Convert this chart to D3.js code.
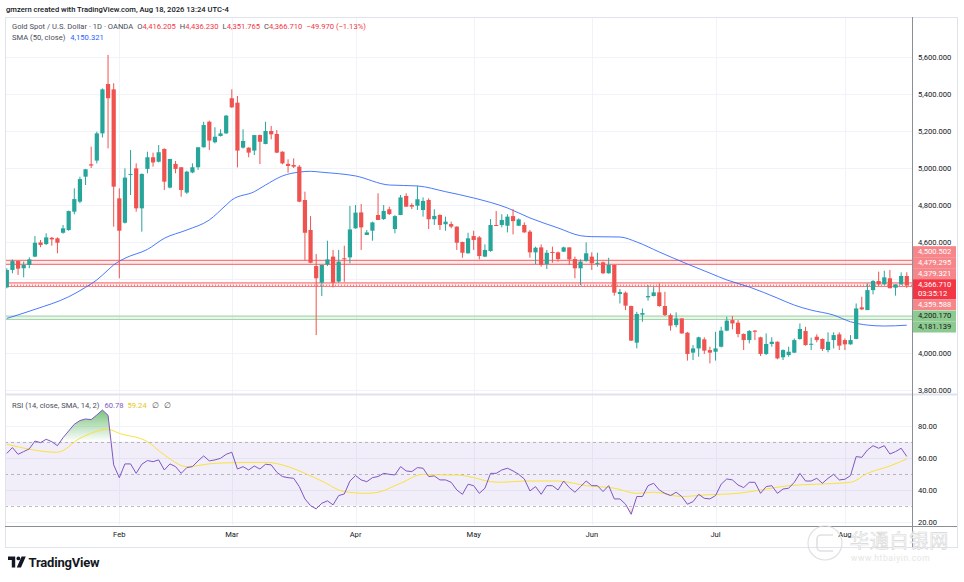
<!DOCTYPE html>
<html>
<head>
<meta charset="utf-8">
<script src="https://cdn.jsdelivr.net/npm/d3@7"></script>
<style>
    body { margin: 0; background: #fff; }
    svg { display: block; font-family: Roboto, "Noto Sans", sans-serif; }
</style>
</head>
<body>
<svg width="964" height="582"></svg>
<script>
// Daily candles, Jan 5 - Aug 18 2026 (Good Friday closed)
const opens = [
    4355,4449,4497,4458,4476,4521,4598,4589,4623,4620,
    4650,4665,4764,4818,4953,5020,5040,5187,5454,5425,
    4836,4704,4966,4998,4782,4995,5058,5034,5103,4894,
    5022,5004,4867,4976,5004,5112,5250,5139,5173,5187,
    5377,5353,5110,5110,5094,5178,5130,5200,5184,5088,
    5022,5016,5007,4827,4665,4470,4380,4479,4521,4386,
    4512,4517,4674,4760,4638,4661,4746,4724,4777,4670,
    4746,4849,4800,4796,4773,4827,4723,4746,4696,4697,
    4683,4600,4539,4632,4625,4521,4551,4692,4692,4688,
    4740,4688,4692,4656,4544,4571,4481,4546,4544,4548,
    4571,4508,4458,4497,4521,4485,4490,4431,4476,4319,
    4326,4254,4056,4207,4301,4308,4328,4254,4205,4151,
    4187,4110,4002,4025,4074,4016,4007,4034,4121,4178,
    4164,4103,4070,4121,4085,3995,4049,4061,3977,3989,
    4002,4076,4119,4047,4088,4076,4016,4070,4101,4070,
    4047,4076,4247,4232,4340,4389,4371,4404,4353,4371,
    4416.205
];
const highs = [
    4458,4506,4500,4494,4517,4632,4611,4647,4627,4625,
    4692,4770,4890,4953,4995,5115,5196,5430,5611,5458,
    4890,4998,5097,5025,4970,5088,5083,5124,5106,5049,
    5038,5004,4985,5025,5112,5250,5256,5220,5209,5286,
    5425,5389,5209,5112,5178,5180,5250,5227,5205,5090,
    5047,5052,5016,4872,4740,4535,4476,4607,4557,4557,
    4580,4795,4800,4805,4665,4710,4863,4800,4791,4745,
    4854,4863,4809,4903,4841,4836,4777,4750,4737,4710,
    4685,4602,4650,4661,4632,4587,4724,4768,4750,4750,
    4778,4728,4706,4665,4575,4587,4557,4575,4548,4575,
    4571,4521,4506,4598,4544,4542,4494,4515,4478,4346,
    4332,4256,4223,4241,4367,4358,4376,4331,4214,4220,
    4189,4114,4043,4088,4085,4034,4115,4142,4196,4200,
    4178,4106,4124,4124,4088,4106,4085,4063,4020,4034,
    4079,4160,4142,4083,4101,4079,4112,4112,4112,4079,
    4097,4268,4304,4376,4394,4440,4445,4449,4371,4436,
    4436.23
];
const lows = [
    4350,4431,4422,4409,4458,4518,4572,4584,4580,4539,
    4645,4660,4750,4810,4908,5000,5025,5165,5106,4683,
    4404,4700,4854,4764,4656,4971,5007,5030,4881,4890,
    4971,4845,4860,4972,4990,5110,5097,5133,5170,5185,
    5325,5003,5105,5058,5070,5021,5128,5155,5080,5020,
    4975,5000,4815,4500,4485,4097,4308,4470,4355,4380,
    4385,4485,4672,4557,4638,4607,4719,4719,4746,4647,
    4745,4790,4778,4773,4737,4670,4692,4665,4661,4674,
    4557,4515,4537,4557,4506,4518,4548,4688,4679,4652,
    4641,4686,4650,4515,4481,4467,4454,4488,4494,4546,
    4476,4404,4367,4494,4449,4467,4427,4429,4310,4268,
    4232,4065,4025,4169,4283,4306,4250,4200,4121,4139,
    4104,3959,3962,3980,3995,3944,3959,4030,4118,4128,
    4085,4016,4052,4070,3984,3989,4034,3966,3962,3980,
    4000,4072,4040,4016,4058,4011,4004,4025,4016,4016,
    4045,4074,4232,4232,4317,4364,4369,4350,4310,4369,
    4351.765
];
const closes = [
    4449,4497,4456,4476,4506,4596,4584,4625,4614,4596,
    4674,4767,4832,4940,4993,5013,5187,5425,5377,4899,
    4661,4948,4968,4782,4968,5058,5030,5085,4926,5049,
    4995,4881,4980,5004,5112,5232,5148,5169,5187,5283,
    5328,5094,5146,5083,5178,5142,5200,5182,5083,5025,
    5011,5007,4818,4650,4488,4404,4476,4506,4380,4494,
    4508,4668,4759,4679,4652,4706,4719,4768,4751,4740,
    4841,4791,4791,4831,4822,4723,4741,4692,4710,4683,
    4596,4542,4620,4611,4524,4557,4692,4689,4719,4737,
    4713,4722,4652,4544,4569,4476,4542,4544,4508,4571,
    4506,4458,4494,4539,4485,4487,4431,4476,4326,4330,
    4256,4067,4211,4216,4308,4328,4254,4205,4148,4187,
    4106,3995,4025,4085,4013,4002,4025,4121,4175,4160,
    4103,4070,4119,4115,3995,4049,4061,3971,4016,4007,
    4070,4130,4043,4050,4070,4022,4061,4097,4040,4047,
    4070,4241,4236,4340,4389,4371,4409,4350,4371,4416.68,
    4366.71
];

// SMA(50): candle index / value
const smaIdx = [0,5,11,14,16,18,19,21,25,28,32,36,39,40,44,46,49,52,54,56,
    62,68,73,78,83,89,93,98,102,104,109,112,116,121,125,128,132,137,140,143,147,150,153,156,160];
const smaVal = [4187,4236,4304,4355,4395,4449,4476,4512,4560,4620,4665,4719,4800,4827,4872,4908,4957,4978,4982,4977,
    4957,4908,4903,4872,4838,4784,4730,4676,4634,4629,4627,4600,4546,4481,4432,4395,4357,4297,4259,4232,4205,4169,4151,4146,4150.321];

// RSI(14) per candle
const rsi = [
    62.7,66.3,62.1,63.8,65.5,70.4,69.4,71.5,70,67.5,
    72.5,76.7,80.9,83.2,84.2,83.8,86.7,89.8,86.5,55.5,
    47.5,56.1,56.1,50.2,55.9,58.2,57.5,58.6,52.3,56.1,
    54.4,50.2,53.8,54.4,58,61.1,58,58.6,59.6,62.1,
    63.4,52.9,54.4,52.3,54.8,52.9,55.9,55.5,50.9,48.2,
    47.5,47.1,41.9,34.2,30,28,31.5,33,30.5,36.3,
    37.3,45.4,48.8,46.1,45,47.5,48.2,50.2,49.6,49.2,
    54.4,51.7,51.3,53.8,53.4,48.2,48.6,46.1,46.1,44.6,
    39.8,37.1,43.4,42.5,37.7,40.9,50.2,50.2,52.3,53.4,
    51.7,49.6,46.7,39.2,41.9,37.1,42.5,42.5,39.8,45.4,
    41.3,38.4,41.9,45.4,42.5,42.5,38.8,42.5,34.2,34.2,
    30.9,24.6,35.7,35.7,42.5,44,39.8,37.7,36.3,38.4,
    35.7,30.9,32.5,37.1,34.6,34.2,36.3,43.4,46.7,46.1,
    42.9,41.3,44.6,44.6,37.7,41.9,42.5,37.7,40.4,40.9,
    44.6,50.2,45.4,45.4,47.1,44,47.1,49.6,46.1,46.5,
    48.8,60.7,60.2,64.8,67.5,65.9,67.5,62.3,63.8,65.9,
    60.78
];
// RSI-based MA (14)
const rsiMaIdx = [0,9,13,18,20,25,28,32,37,41,46,50,53,56,60,64,66,70,74,78,
    80,83,86,88,92,98,103,108,112,115,120,124,130,134,139,144,150,153,157,160];
const rsiMaVal = [68.4,63.4,72.1,77.7,75.2,70,61.7,54.4,56.5,56.9,57.1,54.4,50.2,45.4,38.8,37.7,38.4,44,49.6,49.2,
    49.2,47.5,45,44.6,45.4,45.4,42.5,40.9,37.7,38.4,35.7,36.7,37.7,39.8,42.5,43.4,44.6,50.2,54.8,59.24];

// Drawn horizontal levels (pairs)
const resistance = [4500.502, 4479.295, 4379.321, 4359.588];
const support = [4200.170, 4181.139];
const countdown = "03:35:12";

const priceTicks = [3800, 4000, 4200, 4400, 4600, 4800, 5000, 5200, 5400, 5600];
const rsiTicks = [20, 40, 60, 80];
const rsiLevels = [70, 50, 30];
const holidays = ["2026-04-03"];

// trading days -> month ticks
const fmtDay = d3.timeFormat("%Y-%m-%d");
const days = d3.timeDay.range(new Date(2026, 0, 5), new Date(2026, 7, 19))
    .filter(d => d.getDay() !== 0 && d.getDay() !== 6 && !holidays.includes(fmtDay(d)));
const monthTicks = d3.range(1, days.length).filter(i => days[i].getMonth() !== days[i - 1].getMonth());

const n = closes.length;
const svg = d3.select("svg");

const UP = "#26a69a", DOWN = "#ef5350";
const GRID = "#f0f3fa", TEXT = "#131722";
const FS = 7.6;

const left = 5, right = 912, frameRight = 957;
const priceTop = 17, priceBottom = 393;
const rsiTop = 395, rsiBottom = 525;

const x = d3.scaleBand().domain(d3.range(n)).range([4, 909.6]).paddingInner(0.25).paddingOuter(0.125);
const cx = i => x(i) + x.bandwidth() / 2;
const y = d3.scaleLinear().domain([3784, 5816]).range([priceBottom, priceTop]);
const yR = d3.scaleLinear().domain([17.9, 99.2]).range([rsiBottom, rsiTop]);

const defs = svg.append("defs");
defs.append("clipPath").attr("id", "clipPrice").append("rect")
    .attr("x", left).attr("y", priceTop).attr("width", right - left).attr("height", priceBottom - priceTop);
defs.append("clipPath").attr("id", "clipRsi").append("rect")
    .attr("x", left).attr("y", rsiTop).attr("width", right - left).attr("height", rsiBottom - rsiTop);
defs.append("clipPath").attr("id", "clipOver").append("rect")
    .attr("x", left).attr("y", rsiTop).attr("width", right - left).attr("height", yR(70) - rsiTop);
defs.append("clipPath").attr("id", "clipUnder").append("rect")
    .attr("x", left).attr("y", yR(30)).attr("width", right - left).attr("height", rsiBottom - yR(30));

const gOver = defs.append("linearGradient").attr("id", "gradOver")
    .attr("gradientUnits", "userSpaceOnUse").attr("x1", 0).attr("x2", 0)
    .attr("y1", yR(90)).attr("y2", yR(70));
gOver.append("stop").attr("offset", 0).attr("stop-color", "#4caf50").attr("stop-opacity", 0.75);
gOver.append("stop").attr("offset", 1).attr("stop-color", "#4caf50").attr("stop-opacity", 0);
const gUnder = defs.append("linearGradient").attr("id", "gradUnder")
    .attr("gradientUnits", "userSpaceOnUse").attr("x1", 0).attr("x2", 0)
    .attr("y1", yR(30)).attr("y2", yR(20));
gUnder.append("stop").attr("offset", 0).attr("stop-color", "#f23645").attr("stop-opacity", 0);
gUnder.append("stop").attr("offset", 1).attr("stop-color", "#f23645").attr("stop-opacity", 0.6);

// ---------- grids ----------
const grid = svg.append("g");
grid.selectAll(".vg").data(monthTicks).enter().append("line")
    .attr("x1", d => Math.round(cx(d)) + 0.5).attr("x2", d => Math.round(cx(d)) + 0.5)
    .attr("y1", priceTop).attr("y2", rsiBottom)
    .attr("stroke", GRID);
grid.selectAll(".hg").data(priceTicks).enter().append("line")
    .attr("x1", left).attr("x2", right)
    .attr("y1", d => Math.round(y(d)) + 0.5).attr("y2", d => Math.round(y(d)) + 0.5)
    .attr("stroke", GRID);
grid.selectAll(".rg").data(rsiTicks).enter().append("line")
    .attr("x1", left).attr("x2", right)
    .attr("y1", d => Math.round(yR(d)) + 0.5).attr("y2", d => Math.round(yR(d)) + 0.5)
    .attr("stroke", GRID);

// ---------- price pane ----------
const pane = svg.append("g").attr("clip-path", "url(#clipPrice)");

// level bands
const bands = [
    { a: resistance[0], b: resistance[1], line: "#f77c80", fill: "rgba(242,54,69,0.10)" },
    { a: resistance[2], b: resistance[3], line: "#f77c80", fill: "rgba(242,54,69,0.10)" },
    { a: support[0], b: support[1], line: "#a5d6a7", fill: "rgba(76,175,80,0.12)" }
];
bands.forEach(bd => {
    pane.append("rect")
        .attr("x", left).attr("width", right - left)
        .attr("y", y(bd.a)).attr("height", y(bd.b) - y(bd.a))
        .attr("fill", bd.fill);
    [bd.a, bd.b].forEach(v => {
        pane.append("line")
            .attr("x1", left).attr("x2", right)
            .attr("y1", y(v)).attr("y2", y(v))
            .attr("stroke", bd.line).attr("stroke-width", 1.2);
    });
});

// last price dotted line
const last = closes[n - 1];
pane.append("line")
    .attr("x1", left).attr("x2", right)
    .attr("y1", y(last)).attr("y2", y(last))
    .attr("stroke", DOWN).attr("stroke-width", 1).attr("stroke-dasharray", "1,2");

// SMA 50
const smaPts = smaIdx.map((d, i) => [d, smaVal[i]]);
pane.append("path")
    .attr("d", d3.line().x(d => cx(d[0])).y(d => y(d[1])).curve(d3.curveMonotoneX)(smaPts))
    .attr("fill", "none").attr("stroke", "#2962ff").attr("stroke-width", 1).attr("opacity", 0.85);

// candles
const candle = pane.selectAll(".candle")
    .data(d3.range(n))
    .enter().append("g")
    .attr("class", "candle")
    .attr("fill", i => closes[i] >= opens[i] ? UP : DOWN)
    .attr("stroke", i => closes[i] >= opens[i] ? UP : DOWN);

candle.append("line")
    .attr("x1", i => cx(i)).attr("x2", i => cx(i))
    .attr("y1", i => y(highs[i])).attr("y2", i => y(lows[i]))
    .attr("stroke-width", 1);

candle.append("rect")
    .attr("x", i => x(i))
    .attr("width", x.bandwidth())
    .attr("y", i => y(Math.max(opens[i], closes[i])))
    .attr("height", i => Math.max(1, Math.abs(y(opens[i]) - y(closes[i]))))
    .attr("stroke", "none");

// ---------- RSI pane ----------
const rp = svg.append("g").attr("clip-path", "url(#clipRsi)");
rp.append("rect")
    .attr("x", left).attr("width", right - left)
    .attr("y", yR(70)).attr("height", yR(30) - yR(70))
    .attr("fill", "rgba(126,87,194,0.1)");
rp.selectAll(".lvl").data(rsiLevels).enter().append("line")
    .attr("x1", left).attr("x2", right)
    .attr("y1", d => Math.round(yR(d)) + 0.5).attr("y2", d => Math.round(yR(d)) + 0.5)
    .attr("stroke", "#787b86").attr("stroke-opacity", 0.5).attr("stroke-dasharray", "3,3");

const rsiIdx = d3.range(n);
rp.append("path")
    .attr("clip-path", "url(#clipOver)")
    .attr("d", d3.area().x(i => cx(i)).y0(yR(70)).y1(i => yR(rsi[i]))(rsiIdx))
    .attr("fill", "url(#gradOver)");
rp.append("path")
    .attr("clip-path", "url(#clipUnder)")
    .attr("d", d3.area().x(i => cx(i)).y0(yR(30)).y1(i => yR(rsi[i]))(rsiIdx))
    .attr("fill", "url(#gradUnder)");

const maPts = rsiMaIdx.map((d, i) => [d, rsiMaVal[i]]);
rp.append("path")
    .attr("d", d3.line().x(d => cx(d[0])).y(d => yR(d[1])).curve(d3.curveMonotoneX)(maPts))
    .attr("fill", "none").attr("stroke", "#f9e23c").attr("stroke-width", 1);
rp.append("path")
    .attr("d", d3.line().x(i => cx(i)).y(i => yR(rsi[i]))(rsiIdx))
    .attr("fill", "none").attr("stroke", "#7e57c2").attr("stroke-width", 1);

// ---------- frame & axes ----------
svg.append("rect")
    .attr("x", left + 0.5).attr("y", priceTop + 0.5)
    .attr("width", frameRight - left).attr("height", 530)
    .attr("fill", "none").attr("stroke", "#e0e3eb");
svg.append("line")
    .attr("x1", left).attr("x2", frameRight).attr("y1", 394.5).attr("y2", 394.5)
    .attr("stroke", "#e0e3eb").attr("stroke-width", 2);
svg.append("line")
    .attr("x1", left).attr("x2", frameRight).attr("y1", 526.5).attr("y2", 526.5)
    .attr("stroke", "#8a8e97");
svg.append("line")
    .attr("x1", right + 0.5).attr("x2", right + 0.5).attr("y1", priceTop).attr("y2", 547)
    .attr("stroke", "#8a8e97");

const axisText = sel => sel.attr("font-size", FS).attr("fill", TEXT).attr("font-family", "Roboto, sans-serif");

// price labels on the scale, stacked around the last price
const fmt3 = d3.format(",.3f");
const labels = resistance.map(v => ({ v, kind: "res" }))
    .concat(support.map(v => ({ v, kind: "sup" })))
    .concat([{ v: last, kind: "cur" }])
    .sort((a, b) => b.v - a.v);
const H = 11;
const k = labels.findIndex(d => d.kind === "cur");
labels[k].top = y(last) - 6; labels[k].h = 20;
for (let i = k - 1; i >= 0; i--) {
    labels[i].h = H;
    labels[i].top = Math.min(y(labels[i].v) - H / 2, labels[i + 1].top - H);
}
for (let i = k + 1; i < labels.length; i++) {
    labels[i].h = H;
    labels[i].top = Math.max(y(labels[i].v) - H / 2, labels[i - 1].top + labels[i - 1].h);
}

// ticks hidden behind a label are not drawn
const freeTicks = priceTicks.filter(t =>
    !labels.some(d => y(t) > d.top - 4 && y(t) < d.top + d.h + 4));

const pAxis = svg.append("g")
    .attr("transform", `translate(${right},0)`)
    .call(d3.axisRight(y).tickValues(freeTicks).tickFormat(fmt3).tickSize(0).tickPadding(6));
pAxis.select(".domain").remove();
pAxis.selectAll("text").call(axisText);

const rAxis = svg.append("g")
    .attr("transform", `translate(${right},0)`)
    .call(d3.axisRight(yR).tickValues(rsiTicks).tickFormat(d3.format(".2f")).tickSize(0).tickPadding(6));
rAxis.select(".domain").remove();
rAxis.selectAll("text").call(axisText);

const tAxis = svg.append("g")
    .attr("transform", `translate(0,${rsiBottom})`)
    .call(d3.axisBottom(x).tickValues(monthTicks).tickFormat(i => d3.timeFormat("%b")(days[i])).tickSize(0).tickPadding(7));
tAxis.select(".domain").remove();
tAxis.selectAll("text").call(axisText);

const badge = svg.append("g");
labels.forEach(d => {
    const bg = d.kind === "cur" ? "#f23645" : d.kind === "res" ? "#f7868a" : "#8dca8f";
    badge.append("rect")
        .attr("x", right + 1).attr("y", d.top).attr("width", 43).attr("height", d.h)
        .attr("fill", bg);
    badge.append("text")
        .attr("x", right + 6).attr("y", d.top + 8)
        .attr("font-size", FS).attr("fill", d.kind === "sup" ? TEXT : "#fff")
        .text(fmt3(d.v));
    if (d.kind === "cur") {
        badge.append("text")
            .attr("x", right + 6).attr("y", d.top + 17)
            .attr("font-size", FS).attr("fill", "#fff")
            .text(countdown);
    }
});

// ---------- legends ----------
svg.append("text")
    .attr("x", 6).attr("y", 12)
    .attr("font-size", FS).attr("font-weight", 500).attr("fill", TEXT)
    .text("gmzern created with TradingView.com, Aug 18, 2026 13:24 UTC-4");

const chg = last - closes[n - 2];
const red = "#f23645";
const leg = svg.append("text").attr("x", 12).attr("y", 29).attr("font-size", FS).attr("fill", "#4a4e59");
leg.append("tspan").text("Gold Spot / U.S. Dollar · 1D · OANDA");
[["O", opens[n - 1]], ["H", highs[n - 1]], ["L", lows[n - 1]], ["C", last]].forEach(([t, v]) => {
    leg.append("tspan").attr("dx", 4).text(t);
    leg.append("tspan").attr("fill", red).text(fmt3(v));
});
leg.append("tspan").attr("dx", 4).attr("fill", red)
    .text(`${d3.format(".3f")(chg).replace("-", "−")} (${d3.format(".2f")(chg / closes[n - 2] * 100).replace("-", "−")}%)`);

const leg2 = svg.append("text").attr("x", 12).attr("y", 40).attr("font-size", FS).attr("fill", "#4a4e59");
leg2.append("tspan").text("SMA (50, close)");
leg2.append("tspan").attr("dx", 5).attr("fill", "#2962ff").text(fmt3(smaVal[smaVal.length - 1]));

const leg3 = svg.append("text").attr("x", 12).attr("y", 408).attr("font-size", FS).attr("fill", "#4a4e59");
leg3.append("tspan").text("RSI (14, close, SMA, 14, 2)");
leg3.append("tspan").attr("dx", 5).attr("fill", "#7e57c2").text(d3.format(".2f")(rsi[n - 1]));
leg3.append("tspan").attr("dx", 4).attr("fill", "#e8c61a").text(d3.format(".2f")(rsiMaVal[rsiMaVal.length - 1]));
leg3.append("tspan").attr("dx", 5).text("∅");
leg3.append("tspan").attr("dx", 5).text("∅");

// ---------- footer ----------
const logo = svg.append("g").attr("fill", TEXT);
logo.append("path").attr("d", "M8 556.5 h7.2 v11 h-3.4 v-7.6 h-3.8 z");
logo.append("circle").attr("cx", 18.4).attr("cy", 558.4).attr("r", 1.9);
logo.append("path").attr("d", "M21.6 556.5 h4.2 l-4.8 11 h-4.2 z");
svg.append("text")
    .attr("x", 28.5).attr("y", 567)
    .attr("font-size", 13).attr("font-weight", 700).attr("fill", TEXT)
    .attr("letter-spacing", -0.2)
    .text("TradingView");

// watermark
const wm = svg.append("g").attr("opacity", 0.9);
wm.append("circle").attr("cx", 825).attr("cy", 543).attr("r", 17)
    .attr("fill", "none").attr("stroke", "#dedede").attr("stroke-width", 1.2);
wm.append("path").attr("d", "M833 535 h-12 a4 4 0 0 0 -4 4 v8 a4 4 0 0 0 4 4 h12")
    .attr("fill", "none").attr("stroke", "#dedede").attr("stroke-width", 1.6);
wm.append("text").attr("x", 850).attr("y", 548)
    .attr("font-family", "Noto Sans CJK SC").attr("font-size", 19)
    .attr("fill", "#fff").attr("stroke", "#d2d2d2").attr("stroke-width", 0.6)
    .attr("letter-spacing", 0.8)
    .text("华通白银网");
wm.append("text").attr("x", 851).attr("y", 561)
    .attr("font-size", 8.5).attr("fill", "#e4e4e4")
    .attr("letter-spacing", 0.6)
    .text("www.htbaiyin.com");
</script>
</body>
</html>
